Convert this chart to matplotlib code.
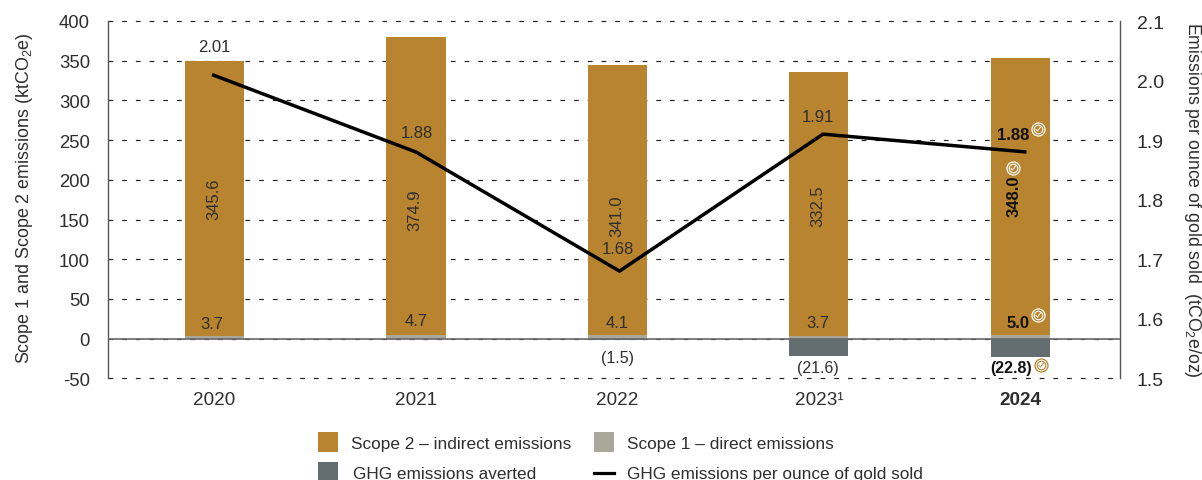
import numpy as np
import matplotlib
matplotlib.use("Agg")
import matplotlib.pyplot as plt
from matplotlib.lines import Line2D
from matplotlib.patches import Rectangle
from matplotlib.ticker import MultipleLocator

years = ["2020", "2021", "2022", "2023¹", "2024"]
scope2 = [345.6, 374.9, 341.0, 332.5, 348.0]
scope1 = [3.7, 4.7, 4.1, 3.7, 5.0]
averted = [0, 0, -1.5, -21.6, -22.8]
intensity = [2.01, 1.88, 1.68, 1.91, 1.88]

W, H = 1202, 481
GOLD = "#B9842F"
STONE = "#A9A89B"
SLATE = "#646E71"
TEXT = "#2e2e2e"

plt.rcParams["font.family"] = ["Liberation Sans", "DejaVu Sans"]
plt.rcParams["mathtext.fontset"] = "custom"
plt.rcParams["mathtext.rm"] = "Liberation Sans"
plt.rcParams["mathtext.default"] = "rm"
plt.rcParams["axes.unicode_minus"] = False
plt.rcParams["font.size"] = 11.5


def px(x, y):
    return x / W, 1 - y / H


def label(x, y, s, **kw):
    kw.setdefault("ha", "center")
    kw.setdefault("va", "center")
    kw.setdefault("color", TEXT)
    fig.text(*px(x, y), s, **kw)


def badge(x, y, color):
    # small double ring with a tick inside
    fx, fy = px(x, y)
    for size, lw in [(13, 0.9), (8.5, 0.8)]:
        fig.add_artist(Line2D([fx], [fy], marker="o", ms=size * 0.72, mfc="none", mec=color,
                              mew=lw, transform=fig.transFigure))
    x0, y0 = px(x - 2, y + 0.5)
    x1, y1 = px(x - 0.5, y + 2)
    x2, y2 = px(x + 2.5, y - 2)
    fig.add_artist(Line2D([x0, x1, x2], [y0, y1, y2], color=color, lw=0.7, transform=fig.transFigure))


fig = plt.figure(figsize=(W / 100, H / 100), dpi=100)
ax = fig.add_axes([108 / W, 1 - 379.3 / H, (1120 - 108) / W, (379.3 - 22) / H])

x = np.arange(len(years))
scope1 = np.array(scope1)
ax.bar(x, scope1, width=0.293, color=STONE, zorder=3)
ax.bar(x, scope2, width=0.293, bottom=scope1, color=GOLD, zorder=3)
ax.bar(x, averted, width=0.293, color=SLATE, zorder=3)
ax.axhline(0, color="#666666", lw=1.2, zorder=4)

ax.set_xlim(-0.5285, 4.494)
ax.set_ylim(-50, 400)
ax.yaxis.set_major_locator(MultipleLocator(50))
ax.set_xticks(x)
ax.set_xticklabels(years, fontsize=13.6, color=TEXT)
ax.get_xticklabels()[-1].set_fontweight("bold")
ax.tick_params(axis="x", length=0, pad=9)
ax.tick_params(axis="y", length=0, pad=13, labelsize=13.3, labelcolor=TEXT)
ax.grid(True, axis="y", color="#222222", lw=0.85, dashes=(4, 7.6), zorder=1)
ax.set_axisbelow(True)
# keep the top and bottom dashed lines at full weight on the axes edge
for gridline in ax.get_ygridlines():
    gridline.set_clip_on(False)
for side in ["top", "bottom"]:
    ax.spines[side].set_visible(False)
for side in ["left", "right"]:
    ax.spines[side].set_color("#555555")
    ax.spines[side].set_linewidth(1.0)

ax2 = ax.twinx()
ax2.set_ylim(1.5, 2.1)
ax2.yaxis.set_major_locator(MultipleLocator(0.1))
ax2.tick_params(axis="y", length=0, pad=12, labelsize=14, labelcolor=TEXT)
for side in ["top", "bottom", "left", "right"]:
    ax2.spines[side].set_visible(False)
# the line's points sit slightly wider apart than the bars
line_x = np.array([-0.012, 1.0, 2.01, 3.02, 4.03])
ax2.plot(line_x, intensity, color="black", lw=2.5, solid_capstyle="butt", solid_joinstyle="miter", zorder=5)

# line values
label(214, 48, f"{intensity[0]:.2f}", fontsize=12)
label(417, 134, f"{intensity[1]:.2f}", fontsize=12)
label(618, 250, f"{intensity[2]:.2f}", fontsize=12)
label(818, 118, f"{intensity[3]:.2f}", fontsize=12)
label(1013, 135, f"{intensity[4]:.2f}", fontsize=12, fontweight="bold", color="#111111")

# scope 2 values, rotated inside the bars
for px_x, px_y, v, bold in zip([214, 415, 617, 818, 1014], [199, 210, 216, 206, 196], scope2, [0, 0, 0, 0, 1]):
    label(px_x, px_y, f"{v:.1f}", rotation=90, fontsize=12,
          fontweight="bold" if bold else "normal", color="#111111" if bold else TEXT)

# scope 1 values
for px_x, px_y, v, bold in zip([212, 416, 617, 818, 1018], [325, 322, 324, 324, 324], scope1, [0, 0, 0, 0, 1]):
    label(px_x, px_y, f"{v:.1f}", fontsize=12,
          fontweight="bold" if bold else "normal", color="#111111" if bold else TEXT)

# averted values, in brackets
label(617, 358, f"({-averted[2]:.1f})", fontsize=11.5)
label(818, 369, f"({-averted[3]:.1f})", fontsize=11.5)
label(1011, 368, f"({-averted[4]:.1f})", fontsize=11.5, fontweight="bold", color="#111111")

badge(1038, 130, "white")
badge(1013, 169, "white")
badge(1038, 316, "white")
badge(1041, 366, GOLD)

label(25, 198, "Scope 1 and Scope 2 emissions (ktCO$_2$e)", rotation=90, fontsize=12.9)
label(1192, 200, "Emissions per ounce of gold sold  (tCO$_2$e/oz)", rotation=270, fontsize=12.8)

# legend, cut off by the lower edge of the figure
for sx, sy, c in [(318, 433, GOLD), (594, 433, STONE), (318, 463, SLATE)]:
    fx, fy = px(sx, sy + 20)
    fig.add_artist(Rectangle((fx, fy), 20 / W, 20 / H, color=c, lw=0, transform=fig.transFigure))
lx0, ly = px(594, 474)
lx1, _ = px(614, 474)
fig.add_artist(Line2D([lx0, lx1], [ly, ly], color="black", lw=2.3, transform=fig.transFigure))
label(351, 444, "Scope 2 – indirect emissions", ha="left", fontsize=12.4)
label(627, 444, "Scope 1 – direct emissions", ha="left", fontsize=12.4)
label(353, 475, "GHG emissions averted", ha="left", fontsize=12.4)
label(627, 475, "GHG emissions per ounce of gold sold", ha="left", fontsize=12.4)

fig.savefig("out.png", dpi=100)
